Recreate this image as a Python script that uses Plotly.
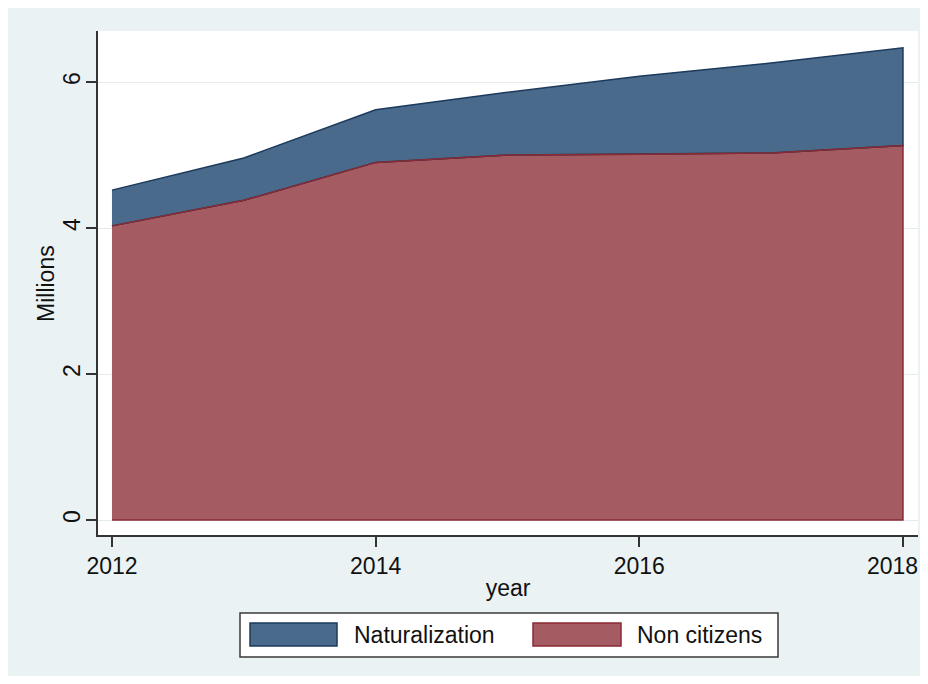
import plotly.graph_objects as go

years = [2012, 2013, 2014, 2015, 2016, 2017, 2018]
non_citizens = [4.03, 4.38, 4.90, 5.00, 5.01, 5.03, 5.13]
naturalization = [0.49, 0.58, 0.72, 0.86, 1.07, 1.23, 1.34]
series_names = ["Naturalization", "Non citizens"]
y_ticks = [0, 2, 4, 6]
x_ticks = [2012, 2014, 2016, 2018]
y_title = "Millions"
x_title = "year"

BLUE_FILL = "#4a6a8b"
BLUE_LINE = "#1b3a5c"
RED_FILL = "#a45b61"
RED_LINE = "#8a2a33"
BG = "#eaf2f3"
FONT = "Liberation Sans, Arial, sans-serif"

OFF = 8  # page body margin
W, H = 912, 668
# plot area in page coordinates
L, R, T, B = 98, 918, 31, 535


def px(x):
    return (x - L) / (R - L)


def py(y):
    return (B - y) / (B - T)


total = [a + b for a, b in zip(non_citizens, naturalization)]

fig = go.Figure()
fig.add_trace(go.Scatter(
    x=years + years[::-1],
    y=non_citizens + [0] * len(years),
    fill="toself", fillcolor=RED_FILL,
    line=dict(color=RED_LINE, width=1.5),
    mode="lines", name=series_names[1], showlegend=False, hoverinfo="skip",
))
fig.add_trace(go.Scatter(
    x=years + years[::-1],
    y=total + non_citizens[::-1],
    fill="toself", fillcolor=BLUE_FILL,
    line=dict(color=BLUE_LINE, width=1.5),
    mode="lines", name=series_names[0], showlegend=False, hoverinfo="skip",
))
fig.add_trace(go.Scatter(
    x=years, y=non_citizens, mode="lines",
    line=dict(color=RED_LINE, width=1.5), showlegend=False, hoverinfo="skip",
))

shapes = [
    dict(type="rect", xref="paper", yref="paper",
         x0=px(240), x1=px(778), y0=py(657), y1=py(613),
         fillcolor="white", line=dict(color="#3a3a3a", width=1.5)),
    dict(type="rect", xref="paper", yref="paper",
         x0=px(250), x1=px(337), y0=py(646), y1=py(623),
         fillcolor=BLUE_FILL, line=dict(color=BLUE_LINE, width=1.5)),
    dict(type="rect", xref="paper", yref="paper",
         x0=px(533), x1=px(621), y0=py(646), y1=py(623),
         fillcolor=RED_FILL, line=dict(color=RED_LINE, width=1.5)),
]

txt_font = dict(family=FONT, size=23, color="#111")
# tick labels: last one right-aligned at the figure edge so it is not cut off
tick_text = [str(v) for v in x_ticks[:-1]] + [""]
annotations = [
    dict(xref="paper", yref="paper", x=px(352), y=py(635), text=series_names[0],
         showarrow=False, xanchor="left", yanchor="middle", font=txt_font),
    dict(xref="paper", yref="paper", x=px(635), y=py(635), text=series_names[1],
         showarrow=False, xanchor="left", yanchor="middle", font=txt_font),
    dict(xref="paper", yref="paper", x=px(46), y=py(284), text=y_title,
         showarrow=False, xanchor="center", yanchor="middle", textangle=-90,
         font=txt_font),
    dict(xref="paper", yref="paper", x=px(919), y=py(566), text=str(x_ticks[-1]),
         showarrow=False, xanchor="right", yanchor="middle", font=txt_font,
         borderpad=0),
]

fig.update_layout(
    width=W, height=H,
    margin=dict(l=L - OFF, r=W - (R - OFF), t=T - OFF, b=H - (B - OFF), pad=0,
                autoexpand=False),
    paper_bgcolor=BG, plot_bgcolor="white",
    font=txt_font,
    shapes=shapes, annotations=annotations,
    showlegend=False,
    xaxis=dict(
        range=[2011.894, 2018.114], tickvals=x_ticks, ticktext=tick_text,
        showgrid=False, zeroline=False, automargin=False,
        showline=True, linecolor="#333", linewidth=1.5,
        ticks="outside", ticklen=10, tickwidth=1.5, tickcolor="#333",
        tickfont=txt_font,
        title=dict(text=x_title, standoff=2, font=txt_font),
    ),
    yaxis=dict(
        range=[-0.205, 6.70], tickvals=y_ticks, ticktext=[str(v) for v in y_ticks],
        showgrid=True, gridcolor="#e4ecee", gridwidth=1, zeroline=False,
        automargin=False,
        showline=True, linecolor="#333", linewidth=1.5,
        ticks="outside", ticklen=10, tickwidth=1.5, tickcolor="#333",
        tickangle=-90, ticklabelstandoff=-3,
        tickfont=txt_font,
    ),
)

fig.write_html("out.html")
